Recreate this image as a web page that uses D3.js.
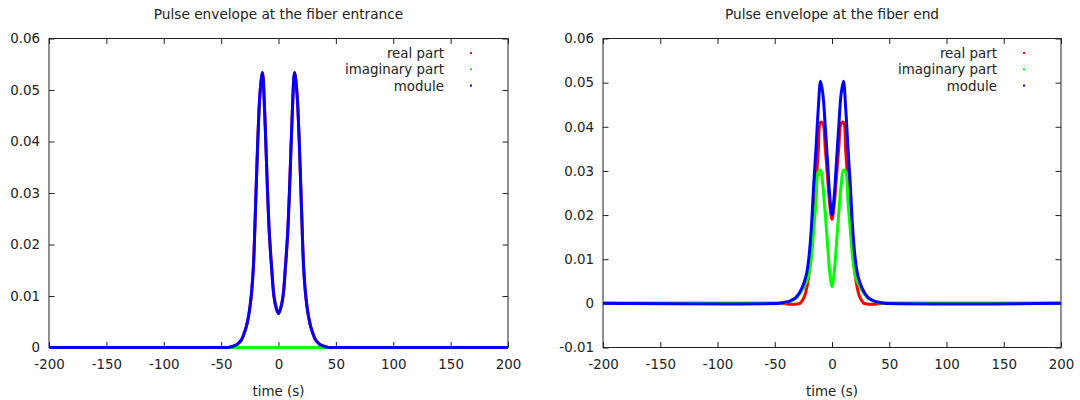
<!DOCTYPE html>
<html>
<head>
<meta charset="utf-8">
<script src="https://d3js.org/d3.v7.min.js"></script>
<style>
body { margin: 0; background: #fff; }
text { font-family: "DejaVu Sans", sans-serif; fill: #222; font-size: 13.4px; }
</style>
</head>
<body>
<svg width="1080" height="400"></svg>
<script>
// Time samples (s), shared by both panels:
var time = [-200, -46, -44, -42, -40, -38, -36, -34, -32, -30, -28, -26, -24, -22, -20, -18, -16, -14, -12, -10, -8, -6, -4, -2,
	0, 2, 4, 6, 8, 10, 12, 14, 16, 18, 20, 22, 24, 26, 28, 30, 32, 34, 36, 38, 40, 42, 44, 46, 200];

// Fiber entrance:
var entranceReal = [0, 0, 0, 0.0001, 0.0002, 0.0004, 0.0006, 0.0010, 0.0016, 0.0027, 0.0041, 0.0062, 0.0095, 0.0152, 0.0273, 0.0405, 0.0497, 0.0534, 0.0455, 0.0330, 0.0222, 0.0155, 0.0100, 0.0077,
	0.0066, 0.0077, 0.0100, 0.0155, 0.0222, 0.0330, 0.0455, 0.0534, 0.0497, 0.0405, 0.0273, 0.0152, 0.0095, 0.0062, 0.0041, 0.0027, 0.0016, 0.0010, 0.0006, 0.0004, 0.0002, 0.0001, 0, 0, 0];
var entranceImag = [0, 0, 0, 0, 0, 0, 0, 0, 0, 0, 0, 0, 0, 0, 0, 0, 0, 0, 0, 0, 0, 0, 0, 0,
	0, 0, 0, 0, 0, 0, 0, 0, 0, 0, 0, 0, 0, 0, 0, 0, 0, 0, 0, 0, 0, 0, 0, 0, 0];
var entranceModule = [0, 0, 0, 0.0001, 0.0002, 0.0004, 0.0006, 0.0010, 0.0016, 0.0027, 0.0041, 0.0062, 0.0095, 0.0152, 0.0273, 0.0405, 0.0497, 0.0534, 0.0455, 0.0330, 0.0222, 0.0155, 0.0100, 0.0077,
	0.0066, 0.0077, 0.0100, 0.0155, 0.0222, 0.0330, 0.0455, 0.0534, 0.0497, 0.0405, 0.0273, 0.0152, 0.0095, 0.0062, 0.0041, 0.0027, 0.0016, 0.0010, 0.0006, 0.0004, 0.0002, 0.0001, 0, 0, 0];

// Fiber end:
var endReal = [0, 0, 0, -0.0001, -0.0001, -0.0002, -0.0002, -0.0002, -0.0002, -0.0001, 0, 0.0006, 0.0016, 0.0036, 0.0068, 0.0118, 0.0190, 0.0265, 0.0345, 0.0410, 0.0408, 0.0355, 0.0290, 0.0225,
	0.0190, 0.0225, 0.0290, 0.0355, 0.0408, 0.0410, 0.0345, 0.0265, 0.0190, 0.0118, 0.0068, 0.0036, 0.0016, 0.0006, 0, -0.0001, -0.0002, -0.0002, -0.0002, -0.0002, -0.0001, -0.0001, 0, 0, 0];
var endImag = [0, 0, 0, 0.0001, 0.0002, 0.0004, 0.0005, 0.0008, 0.0011, 0.0016, 0.0022, 0.0030, 0.0040, 0.0050, 0.0068, 0.0105, 0.0165, 0.0228, 0.0298, 0.0302, 0.0268, 0.0207, 0.0138, 0.0072,
	0.0038, 0.0072, 0.0138, 0.0207, 0.0268, 0.0302, 0.0298, 0.0228, 0.0165, 0.0105, 0.0068, 0.0050, 0.0040, 0.0030, 0.0022, 0.0016, 0.0011, 0.0008, 0.0005, 0.0004, 0.0002, 0.0001, 0, 0, 0];
var endModule = [0, 0, 0.0001, 0.0002, 0.0003, 0.0004, 0.0006, 0.0009, 0.0012, 0.0018, 0.0026, 0.0036, 0.0050, 0.0070, 0.0108, 0.0172, 0.0268, 0.0350, 0.0440, 0.0503, 0.0475, 0.0405, 0.0325, 0.0245,
	0.0200, 0.0245, 0.0325, 0.0405, 0.0475, 0.0503, 0.0440, 0.0350, 0.0268, 0.0172, 0.0108, 0.0070, 0.0050, 0.0036, 0.0026, 0.0018, 0.0012, 0.0009, 0.0006, 0.0004, 0.0003, 0.0002, 0.0001, 0, 0];

// Axes ticks and labels:
var xTicks = [-200, -150, -100, -50, 0, 50, 100, 150, 200];
var entranceYTicks = [0, 0.01, 0.02, 0.03, 0.04, 0.05, 0.06];
var endYTicks = [-0.01, 0, 0.01, 0.02, 0.03, 0.04, 0.05, 0.06];
var seriesNames = ["real part", "imaginary part", "module"];
var seriesColours = ["#ff0000", "#00ff00", "#0000ff"];

var svg = d3.select("svg");

// gnuplot prints a plain hyphen for minus, not U+2212:
var fmtY = function(d) { return d === 0 ? "0" : d.toFixed(2); };
var fmtX = function(d) { return String(d); };

function drawPanel(p) {
	var x = d3.scaleLinear().domain([-200, 200]).range([p.left, p.right]);
	var y = d3.scaleLinear().domain(p.yDomain).range([p.bottom, p.top]);
	var g = svg.append("g");

	// Title:
	g.append("text")
		.attr("x", (p.left + p.right) / 2)
		.attr("y", 19)
		.attr("text-anchor", "middle")
		.style("font-size", "13.7px")
		.text(p.title);

	// Ticks pointing inward on all four sides (gnuplot style):
	g.append("g").attr("transform", "translate(0," + p.bottom + ")")
		.call(d3.axisBottom(x).tickValues(xTicks).tickSize(-5.5).tickPadding(12).tickFormat(fmtX));
	g.append("g").attr("transform", "translate(0," + p.top + ")")
		.call(d3.axisTop(x).tickValues(xTicks).tickSize(-5.5).tickFormat(""));
	g.append("g").attr("transform", "translate(" + p.left + ",0)")
		.call(d3.axisLeft(y).tickValues(p.yTicks).tickSize(-5.5).tickPadding(9).tickFormat(fmtY));
	g.append("g").attr("transform", "translate(" + p.right + ",0)")
		.call(d3.axisRight(y).tickValues(p.yTicks).tickSize(-5.5).tickFormat(""));
	g.selectAll(".domain").remove();
	g.selectAll(".tick line").attr("stroke", "#222");
	g.selectAll(".tick text").attr("fill", "#222").style("font-size", "13.4px").style("font-family", "DejaVu Sans, sans-serif");

	// Border:
	g.append("rect")
		.attr("x", p.left).attr("y", p.top)
		.attr("width", p.right - p.left).attr("height", p.bottom - p.top)
		.attr("fill", "none").attr("stroke", "#222").attr("stroke-width", 1);

	// x label:
	g.append("text")
		.attr("x", (p.left + p.right) / 2)
		.attr("y", 396)
		.attr("text-anchor", "middle")
		.text("time (s)");

	// Curves, real first so the module sits on top:
	var line = d3.line()
		.x(function(d, i) { return x(time[i]); })
		.y(function(d) { return y(d); })
		.curve(d3.curveCatmullRom.alpha(0.5));
	p.series.forEach(function(s, k) {
		g.append("path")
			.attr("d", line(s))
			.attr("fill", "none")
			.attr("stroke", seriesColours[k])
			.attr("stroke-width", 3)
			.attr("stroke-linejoin", "round");
	});

	// Legend:
	seriesNames.forEach(function(name, k) {
		var ly = 53 + k * 16.3;
		g.append("text")
			.attr("x", p.right - 64)
			.attr("y", ly + 5)
			.attr("text-anchor", "end")
			.text(name);
		g.append("rect")
			.attr("x", p.right - 38).attr("y", ly - 1)
			.attr("width", 2).attr("height", 2)
			.attr("fill", seriesColours[k]);
	});
}

drawPanel({
	title: "Pulse envelope at the fiber entrance",
	left: 49, right: 508, top: 38.5, bottom: 347.5,
	yDomain: [0, 0.06], yTicks: entranceYTicks,
	series: [entranceReal, entranceImag, entranceModule]
});
drawPanel({
	title: "Pulse envelope at the fiber end",
	left: 603, right: 1061, top: 38.5, bottom: 347.5,
	yDomain: [-0.01, 0.06], yTicks: endYTicks,
	series: [endReal, endImag, endModule]
});
</script>
</body>
</html>
